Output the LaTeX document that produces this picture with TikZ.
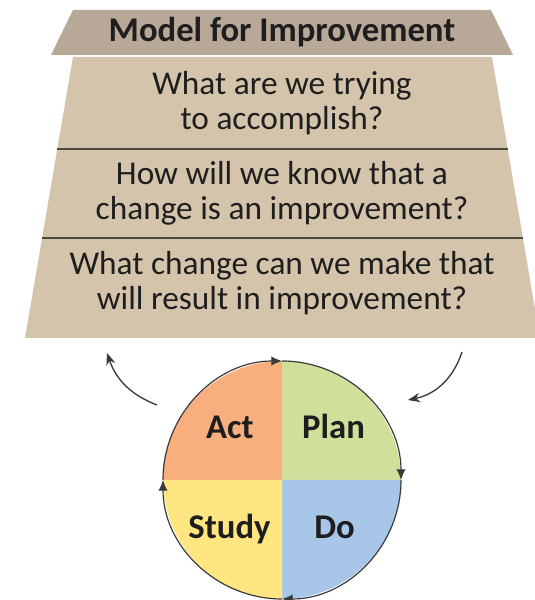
\documentclass[tikz,border=0pt]{standalone}
\usepackage{fontspec}
\setmainfont{Carlito}
\usetikzlibrary{arrows.meta}

\definecolor{headtaupe}{HTML}{B8A898}
\definecolor{bodytaupe}{HTML}{D5C4AC}
\definecolor{rulegrey}{HTML}{4A4640}
\definecolor{rimgrey}{HTML}{3A3A3A}
\definecolor{inkgrey}{HTML}{1E1E1E}
\definecolor{actorange}{HTML}{F8AE7D}
\definecolor{plangreen}{HTML}{CFE09B}
\definecolor{doblue}{HTML}{A7C6E8}
\definecolor{studyyellow}{HTML}{FFE680}

\begin{document}
\begin{tikzpicture}[
        x=0.75pt, y=0.75pt,
        question/.style={align=center, anchor=base, inner sep=0pt, text=inkgrey,
            font=\fontsize{25}{26.25}\selectfont},
        header/.style={anchor=base, inner sep=0pt, text=inkgrey,
            font=\bfseries\fontsize{26}{26.25}\selectfont},
        phase/.style={anchor=base, inner sep=0pt, text=inkgrey,
            font=\bfseries\fontsize{26}{26.25}\selectfont},
        divider/.style={draw=rulegrey, line width=1.5pt},
        cyclearc/.style={draw=rimgrey, line width=0.9pt, -{Latex[length=8pt,width=7pt]}},
        feedback/.style={draw=rimgrey, line width=1pt, -{Stealth[length=9pt,width=7pt]}}
    ]
    \useasboundingbox (0,0) rectangle (535,600);

    % model for improvement
    \fill[headtaupe] (73,590) -- (491,590) -- (513,545) -- (51,545) -- cycle;
    \fill[bodytaupe] (73,543) -- (492,543) -- (540,262) -- (25,262) -- cycle;
    \draw[divider] (57,451) -- (508,451);
    \draw[divider] (42,362) -- (523,362);

    \node[header] (title) at (282,558) {Model for Improvement};
    \node[question] (aim) at (282,470) {What are we trying\\to accomplish?};
    \node[question] (measure) at (282,380) {How will we know that a\\change is an improvement?};
    \node[question] (change) at (282,290) {What change can we make that\\will result in improvement?};

    % pdsa cycle
    \coordinate (hub) at (282,120);
    \foreach \s/\fc in {180/actorange, 90/plangreen, 0/doblue, -90/studyyellow}
        \fill[\fc] (hub) -- ++(\s:119) arc[start angle=\s, end angle=\s-90, radius=119] -- cycle;
    \foreach \s in {180, 90, 0, -90}
        \draw[cyclearc] (hub) ++(\s:119) arc[start angle=\s, end angle=\s-90, radius=119];

    \node[phase] (act) at (230,161) {Act};
    \node[phase] (plan) at (333.5,161) {Plan};
    \node[phase] (study) at (229.5,61) {Study};
    \node[phase] (do) at (334.5,61) {Do};

    % feedback arrows
    \coordinate (actout) at (157,195);
    \coordinate (aimin) at (107,247);
    \coordinate (changeout) at (462,248);
    \coordinate (planin) at (408,200);
    \draw[feedback] (actout) to[bend left=25] (aimin);
    \draw[feedback] (changeout) to[bend left=30] (planin);
\end{tikzpicture}
\end{document}
